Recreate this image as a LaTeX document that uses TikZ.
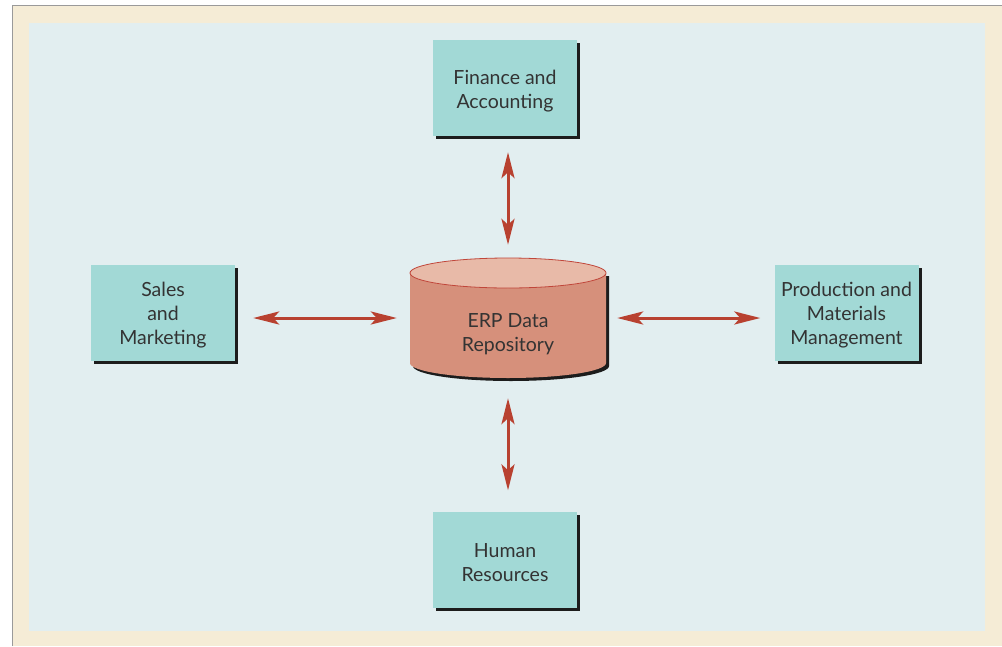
\documentclass[tikz,border=0pt]{standalone}
\usepackage{fontspec}
\setmainfont{Lato}
\usetikzlibrary{arrows.meta,shadows}
\definecolor{frameline}{HTML}{9A9A9A}
\definecolor{cream}{HTML}{F5ECD6}
\definecolor{panel}{HTML}{E2EEF0}
\definecolor{teal}{HTML}{A2D9D6}
\definecolor{shadowcol}{HTML}{1C1C1C}
\definecolor{cylbody}{HTML}{D6907B}
\definecolor{cyltop}{HTML}{E8BAA8}
\definecolor{cylrim}{HTML}{C0463A}
\definecolor{linkcol}{HTML}{B84130}
\definecolor{ink}{HTML}{333333}
\tikzset{
  module/.style={fill=teal, minimum width=144pt, minimum height=96pt, inner sep=0pt,
    drop shadow={shadow xshift=3pt, shadow yshift=-3pt, fill=shadowcol, opacity=1}},
  modtext/.style={align=center, text=ink, font=\fontsize{19.5}{24}\selectfont, yshift=-3pt},
  link/.style={draw=linkcol, line width=3pt,
    {Stealth[length=26pt,width=13pt,inset=6pt]}-{Stealth[length=26pt,width=13pt,inset=6pt]}}
}
\begin{document}
\begin{tikzpicture}[x=1pt,y=-1pt]
\useasboundingbox (0,0) rectangle (1002,646);
% frame and panel
\fill[cream] (12,5) rectangle (1002,646);
\draw[frameline, line width=1.5pt] (12.5,646) -- (12.5,5.5) -- (1002,5.5);
\fill[panel] (29,23) rectangle (985,631);

% modules
\node[module, label={[modtext]center:Finance and\\Accounting}] (fin) at (505,88) {};
\node[module, label={[modtext]center:Sales\\and\\Marketing}] (sales) at (163,312.5) {};
\node[module, label={[modtext]center:Production and\\Materials\\Management}] (prod) at (846.5,312.5) {};
\node[module, label={[modtext]center:Human\\Resources}] (hr) at (505,559.5) {};

% data repository cylinder
\fill[shadowcol] (413,276) -- (413,366) arc[start angle=180, end angle=360, x radius=98pt, y radius=15pt]
  -- (609,276) -- cycle;
\fill[cylbody] (410,273) -- (410,363) arc[start angle=180, end angle=360, x radius=98pt, y radius=15pt]
  -- (606,273) -- cycle;
\filldraw[fill=cyltop, draw=cylrim, line width=0.8pt] (508,273) ellipse[x radius=98pt, y radius=15pt];
\node[minimum width=196pt, minimum height=120pt, inner sep=0pt] (erp) at (508,318) {};
\node[modtext] (erptext) at (508,331) {ERP Data\\Repository};

% links
\draw[link, shorten <=16pt, shorten >=13pt] (fin.south -| erp.center) -- (erp.north);
\draw[link, shorten <=20pt, shorten >=21pt] (erp.south) -- (hr.north -| erp.center);
\draw[link, shorten <=18pt, shorten >=13pt] (sales.east |- erp.center) -- (erp.west);
\draw[link, shorten <=11pt, shorten >=14pt] (erp.east) -- (prod.west |- erp.center);
\end{tikzpicture}
\end{document}
